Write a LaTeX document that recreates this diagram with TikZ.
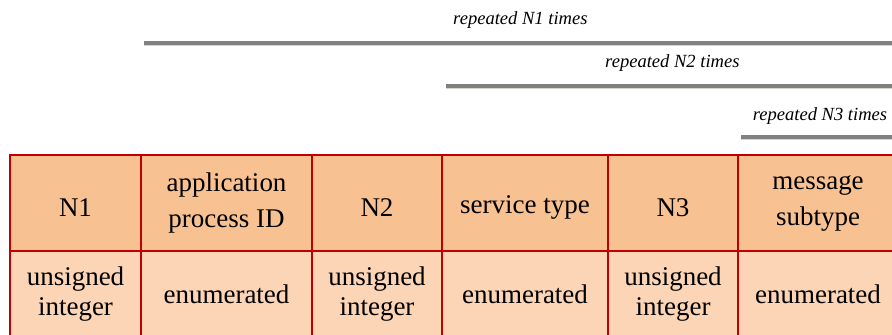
\documentclass[tikz,border=0pt]{standalone}
\usepackage{fontspec}
\setmainfont{Liberation Serif}
\usetikzlibrary{positioning}

\definecolor{headfill}{HTML}{F8C192}
\definecolor{typefill}{HTML}{FBD5B6}
\definecolor{cellrule}{HTML}{C00000}
\definecolor{bargray}{HTML}{808080}
\definecolor{barshade}{HTML}{D6D4CC}

\begin{document}
\begin{tikzpicture}[
    cell/.style={draw=cellrule,line width=1.1pt,outer sep=0pt,inner sep=2pt,align=center},
    headcell/.style={cell,fill=headfill,minimum height=2.4cm,font=\fontsize{19.2}{25.6}\selectfont,
      execute at begin node={\rule{0pt}{18.8pt}}},
    typecell/.style={cell,fill=typefill,minimum height=2.15cm,font=\fontsize{19.2}{20.8}\selectfont},
    repbar/.style={line width=2.9pt,draw=bargray},
    repshade/.style={line width=0.7pt,draw=barshade},
    replabel/.style={anchor=base,inner sep=0pt,font=\fontsize{13.2}{15}\selectfont\itshape}]
    \useasboundingbox (0,0) rectangle (22.3,8.375);

    % repetition bars
    \coordinate (r1a) at (3.6,7.3);
    \coordinate (r1b) at (22.5,7.3);
    \coordinate (r2a) at (11.15,6.225);
    \coordinate (r2b) at (22.5,6.225);
    \coordinate (r3a) at (18.525,4.95);
    \coordinate (r3b) at (22.5,4.95);
    \draw[repshade] ([yshift=-0.065cm]r1a) -- ([yshift=-0.065cm]r1b);
    \draw[repshade] ([yshift=-0.065cm]r2a) -- ([yshift=-0.065cm]r2b);
    \draw[repshade] ([yshift=-0.065cm]r3a) -- ([yshift=-0.065cm]r3b);
    \draw[repbar] (r1a) -- (r1b);
    \draw[repbar] (r2a) -- (r2b);
    \draw[repbar] (r3a) -- (r3b);
    \node[replabel] (rep1) at (13.01,7.75) {repeated N1 times};
    \node[replabel] (rep2) at (16.81,6.675) {repeated N2 times};
    \node[replabel] (rep3) at (20.5,5.35) {repeated N3 times};

    % field names
    \node[headcell,minimum width=3.275cm,anchor=north west] (n1) at (0.25,4.5) {N1};
    \node[headcell,minimum width=4.275cm,right=0pt of n1] (apid) {application\\process ID};
    \node[headcell,minimum width=3.25cm,right=0pt of apid] (n2) {N2};
    \node[headcell,minimum width=4.15cm,right=0pt of n2] (svc) {service type};
    \node[headcell,minimum width=3.25cm,right=0pt of svc] (n3) {N3};
    \node[headcell,minimum width=4.0cm,right=0pt of n3] (msub) {message\\subtype};

    % field types
    \node[typecell,minimum width=3.275cm,below=0pt of n1] (n1t) {unsigned\\integer};
    \node[typecell,minimum width=4.275cm,right=0pt of n1t] (apidt) {enumerated};
    \node[typecell,minimum width=3.25cm,right=0pt of apidt] (n2t) {unsigned\\integer};
    \node[typecell,minimum width=4.15cm,right=0pt of n2t] (svct) {enumerated};
    \node[typecell,minimum width=3.25cm,right=0pt of svct] (n3t) {unsigned\\integer};
    \node[typecell,minimum width=4.0cm,right=0pt of n3t] (msubt) {enumerated};
\end{tikzpicture}
\end{document}
